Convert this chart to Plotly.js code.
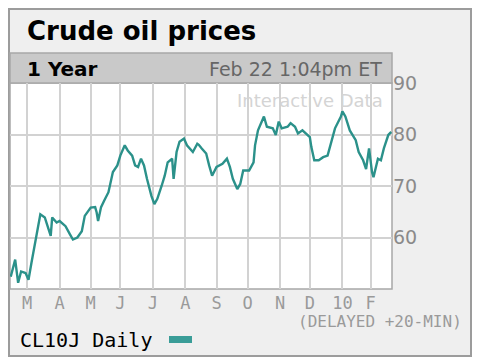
<!DOCTYPE html>
<html>
<head>
<meta charset="utf-8">
<script src="https://cdn.plot.ly/plotly-3.0.1.min.js"></script>
<style>html,body{margin:0;padding:0;background:#fff;}#chart{width:480px;height:363px;}</style>
</head>
<body>
<div id="chart"></div>
<script>
// ---- data ----
const dates = [
'2009-02-12','2009-02-17','2009-02-18','2009-02-20','2009-02-24','2009-02-27',
'2009-03-03','2009-03-05','2009-03-09','2009-03-11','2009-03-13','2009-03-18','2009-03-20','2009-03-24','2009-03-25','2009-03-30',
'2009-04-01','2009-04-07','2009-04-13','2009-04-15','2009-04-20','2009-04-23','2009-04-27',
'2009-05-01','2009-05-06','2009-05-07','2009-05-08','2009-05-12','2009-05-14','2009-05-19','2009-05-22','2009-05-28',
'2009-06-01','2009-06-04','2009-06-08','2009-06-11','2009-06-15','2009-06-17','2009-06-19','2009-06-23','2009-06-25','2009-06-30',
'2009-07-02','2009-07-07','2009-07-10','2009-07-14','2009-07-16','2009-07-21','2009-07-22','2009-07-24','2009-07-28','2009-07-31',
'2009-08-04','2009-08-06','2009-08-10','2009-08-13','2009-08-14','2009-08-18','2009-08-21','2009-08-25','2009-08-27',
'2009-09-01','2009-09-08','2009-09-11','2009-09-15','2009-09-17','2009-09-22','2009-09-24','2009-09-28',
'2009-10-02','2009-10-07','2009-10-08','2009-10-12','2009-10-16','2009-10-20','2009-10-26','2009-10-28','2009-10-30',
'2009-11-03','2009-11-09','2009-11-11','2009-11-16','2009-11-18','2009-11-23','2009-11-27',
'2009-12-01','2009-12-02','2009-12-04','2009-12-09','2009-12-14','2009-12-17','2009-12-21','2009-12-24','2009-12-31',
'2010-01-04','2010-01-06','2010-01-11','2010-01-15','2010-01-20','2010-01-25','2010-01-27','2010-01-29',
'2010-02-02','2010-02-03','2010-02-08','2010-02-10','2010-02-12','2010-02-18','2010-02-22'];

const prices = [
52.4,54.4,55.7,51.2,53.4,53.1,
51.8,55.1,58.3,61.6,64.5,63.9,62.2,60.3,63.9,62.9,
63.2,62.2,60.6,59.6,60.0,61.2,64.2,
65.8,65.9,64.9,63.2,65.9,67.1,68.8,72.7,74.0,
75.9,77.9,76.9,75.9,74.0,73.7,75.3,74.0,71.4,68.1,
66.5,67.5,70.1,72.0,74.6,75.3,71.4,76.6,78.6,79.2,
77.9,77.3,76.6,78.2,78.0,77.3,76.3,74.0,72.0,
73.7,74.3,75.3,73.7,71.4,69.4,70.4,73.0,
73.0,74.6,77.9,80.8,83.5,81.5,81.2,79.9,82.5,
81.2,81.5,82.2,81.5,80.2,80.8,79.9,
79.5,77.6,75.0,75.0,75.6,75.9,78.2,81.2,83.5,
84.5,83.5,80.8,78.9,76.6,75.0,73.3,77.3,
72.7,71.7,75.3,75.0,77.3,79.9,80.5];

const monthTickDates = ['2009-03-02','2009-04-01','2009-05-01','2009-06-01','2009-07-01','2009-08-03',
  '2009-09-01','2009-10-01','2009-11-02','2009-12-01','2010-01-04','2010-02-01'];
const monthTickLabels = ['M','A','M','J','J','A','S','O','N','D','10','F'];
const priceTicks = [60, 70, 80, 90];
const holidays = ['2009-02-16','2009-04-10','2009-05-25','2009-07-03','2009-09-07',
  '2009-11-26','2009-12-25','2010-01-01','2010-01-18','2010-02-15'];
const seriesName = 'CL10J Daily';

// ---- layout helpers (pixel -> paper) ----
const PL = 10, PR = 392, PT = 83, PB = 289;
const fx = px => (px - PL) / (PR - PL);
const fy = py => (PB - py) / (PB - PT);
const rect = (x0, y0, x1, y1, fill, lc, lw) => ({
  type: 'rect', xref: 'paper', yref: 'paper', layer: 'below',
  x0: fx(x0), x1: fx(x1), y0: fy(y1), y1: fy(y0),
  fillcolor: fill, line: {color: lc, width: lw}
});
const teal = '#2b918a';

const trace = {
  type: 'scatter', mode: 'lines', x: dates, y: prices, name: seriesName,
  line: {color: teal, width: 2.4}, hoverinfo: 'skip'
};

const layout = {
  width: 480, height: 363,
  margin: {l: PL, r: 480 - PR, t: PT, b: 363 - PB, pad: 0},
  paper_bgcolor: '#ffffff', plot_bgcolor: 'rgba(0,0,0,0)',
  showlegend: false,
  xaxis: {
    type: 'date',
    range: ['2009-02-11 12:00', '2010-02-22 12:00'],
    rangebreaks: [{bounds: ['sat', 'mon']}, {values: holidays}],
    tickmode: 'array', tickvals: monthTickDates, ticktext: monthTickLabels,
    showgrid: true, gridcolor: '#d2d2d2', gridwidth: 2,
    ticks: '', zeroline: false, showline: false,
    tickfont: {family: 'DejaVu Sans Mono', size: 17, color: '#9a9a9a'},
    ticklabelstandoff: 2,
    fixedrange: true
  },
  yaxis: {
    range: [50, 90], side: 'right',
    tickmode: 'array', tickvals: priceTicks,
    showgrid: true, gridcolor: '#d2d2d2', gridwidth: 2,
    ticks: '', zeroline: false, showline: false,
    tickfont: {family: 'DejaVu Sans', size: 19, color: '#8a8a8a'},
    fixedrange: true
  },
  shapes: [
    rect(9, 9, 471, 356, '#efefef', '#9c9c9c', 2),
    rect(10, 83, 392, 289, '#ffffff', '#a8a8a8', 1.5),
    rect(10, 53, 392, 83, '#c9c9c9', '#a8a8a8', 1.5),
    rect(169, 336, 192, 343, '#3a9d98', '#3a9d98', 0)
  ],
  annotations: [
    {text: '<b>Crude oil prices</b>', x: fx(26), y: fy(31), xanchor: 'left', yanchor: 'middle',
     font: {family: 'DejaVu Sans', size: 26, color: '#000'}},
    {text: '<b>1 Year</b>', x: fx(26), y: fy(69.5), xanchor: 'left', yanchor: 'middle',
     font: {family: 'DejaVu Sans', size: 20, color: '#000'}},
    {text: 'Feb 22 1:04pm ET', x: fx(383), y: fy(69.5), xanchor: 'right', yanchor: 'middle',
     font: {family: 'DejaVu Sans', size: 19, color: '#666666'}},
    {text: 'Interactive Data', x: fx(384), y: fy(100), xanchor: 'right', yanchor: 'middle',
     font: {family: 'DejaVu Sans', size: 18, color: '#d4d4d4'}},
    {text: '(DELAYED +20-MIN)', x: fx(463), y: fy(321), xanchor: 'right', yanchor: 'middle',
     font: {family: 'DejaVu Sans Mono', size: 16, color: '#9a9a9a'}},
    {text: seriesName, x: fx(19), y: fy(340), xanchor: 'left', yanchor: 'middle',
     font: {family: 'DejaVu Sans Mono', size: 20, color: '#000'}}
  ].map(a => Object.assign({xref: 'paper', yref: 'paper', showarrow: false, borderpad: 0}, a))
};

Plotly.newPlot('chart', [trace], layout, {staticPlot: true, displayModeBar: false});
</script>
</body>
</html>
